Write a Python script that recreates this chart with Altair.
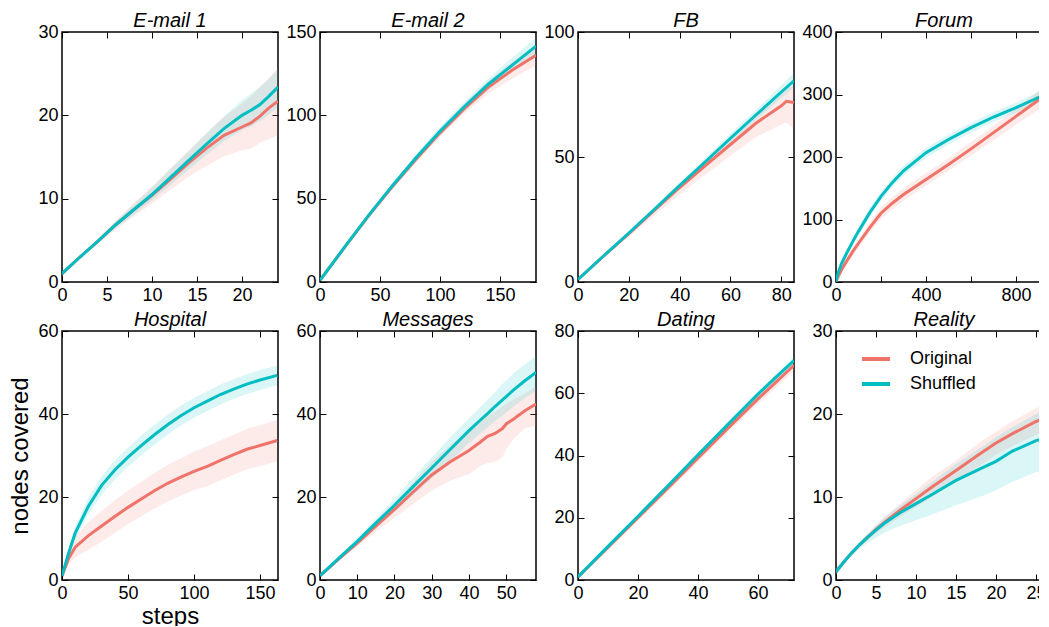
import altair as alt
import pandas as pd

FONT = "Liberation Sans"
RED = "#F0736A"
TEAL = "#00BDC2"

panel_names = ["E-mail 1", "E-mail 2", "FB", "Forum", "Hospital", "Messages", "Dating", "Reality"]
x_max = [24, 180, 85, 960, 163.6, 58, 72, 27]
y_max = [30, 150, 100, 400, 60, 60, 80, 30]
x_ticks = [[0, 5, 10, 15, 20], [0, 50, 100, 150], [0, 20, 40, 60, 80], [0, 200, 400, 600, 800],
           [0, 50, 100, 150], [0, 10, 20, 30, 40, 50], [0, 20, 40, 60], [0, 5, 10, 15, 20, 25]]
y_ticks = [[0, 10, 20, 30], [0, 50, 100, 150], [0, 50, 100], [0, 100, 200, 300, 400],
           [0, 20, 40, 60], [0, 20, 40, 60], [0, 20, 40, 60, 80], [0, 10, 20, 30]]

# ---- E-mail 1
e1_x = [0, 2, 4, 6, 8, 10, 12, 14, 16, 18, 20, 21, 22, 23, 24]
e1_s = [1, 3.0, 4.9, 6.9, 8.7, 10.5, 12.5, 14.5, 16.5, 18.4, 20.0, 20.6, 21.3, 22.3, 23.4]
e1_s_lo = [1, 2.9, 4.7, 6.5, 8.1, 9.8, 11.6, 13.4, 15.2, 16.9, 18.2, 18.7, 19.3, 20.1, 21.0]
e1_s_hi = [1, 3.1, 5.1, 7.3, 9.3, 11.3, 13.5, 15.6, 17.8, 19.9, 21.8, 22.6, 23.4, 24.4, 25.5]
e1_o = [1, 3.0, 4.9, 6.9, 8.7, 10.4, 12.3, 14.2, 16.0, 17.6, 18.6, 19.1, 19.9, 20.9, 21.7]
e1_o_lo = [1, 2.9, 4.6, 6.3, 7.9, 9.4, 11.0, 12.6, 13.9, 15.1, 15.8, 16.0, 16.7, 17.2, 17.6]
e1_o_hi = [1, 3.1, 5.2, 7.4, 9.5, 11.5, 13.6, 15.7, 17.8, 19.8, 21.4, 22.3, 23.4, 24.5, 25.7]

# ---- E-mail 2
e2_x = [0, 20, 40, 60, 80, 100, 120, 140, 160, 180]
e2_s = [1, 20.5, 39.5, 57.5, 74.5, 90.5, 105, 118.5, 130, 141.5]
e2_s_lo = [1, 20, 38.5, 56, 72.5, 88, 102, 115, 126, 137]
e2_s_hi = [1, 21, 40.5, 59, 76.5, 93, 108, 122, 134.5, 146.5]
e2_o = [1, 20.3, 39.2, 57, 73.7, 89.5, 103.8, 116.8, 127, 136]
e2_o_lo = [1, 19.8, 38.2, 55.5, 71.7, 87, 100.8, 113, 122, 130]
e2_o_hi = [1, 20.8, 40.2, 58.5, 75.7, 92, 106.8, 120.5, 132, 141]

# ---- FB
fb_x = [0, 10, 20, 30, 40, 50, 60, 70, 80, 82, 85]
fb_s = [1, 10.4, 19.6, 29.0, 38.6, 48.0, 57.5, 66.8, 76.0, 77.8, 80.5]
fb_s_lo = [1, 10.1, 19.0, 28.1, 37.4, 46.5, 55.7, 64.7, 73.6, 75.3, 77.9]
fb_s_hi = [1, 10.7, 20.2, 29.9, 39.8, 49.5, 59.3, 68.9, 78.6, 80.6, 83.9]
fb_o = [1, 10.3, 19.3, 28.6, 37.8, 46.5, 55.0, 63.5, 70.5, 72.3, 71.8]
fb_o_lo = [1, 9.7, 18.1, 26.6, 35.0, 42.9, 50.5, 58.0, 63.0, 63.8, 61.3]
fb_o_hi = [1, 10.7, 20.1, 29.8, 39.4, 48.5, 57.5, 67.0, 75.5, 77.8, 78.3]

# ---- Forum
fo_x = [0, 10, 25, 50, 75, 100, 150, 200, 250, 300, 400, 500, 600, 700, 800, 880, 960]
fo_s = [1, 15, 30, 48, 65, 81, 111, 137, 159, 178, 207, 228, 247, 264, 279, 292, 306]
fo_s_lo = [1, 12, 26, 43, 59, 75, 104, 130, 152, 170, 199, 220, 239, 256, 271, 283, 296]
fo_s_hi = [1, 18, 34, 53, 71, 87, 118, 144, 166, 186, 215, 236, 255, 272, 287, 301, 316]
fo_o = [1, 9, 20, 35, 49, 62, 87, 110, 126, 140, 164, 188, 213, 239, 265, 286, 307]
fo_o_lo = [1, 7, 16, 29, 42, 55, 79, 101, 116, 130, 154, 178, 202, 227, 252, 271, 288]
fo_o_hi = [1, 11, 24, 41, 56, 69, 95, 119, 136, 150, 174, 198, 224, 250, 277, 300, 328]

# ---- Hospital
ho_x = [0, 5, 10, 20, 30, 40, 50, 60, 70, 80, 90, 100, 110, 120, 130, 140, 150, 163]
ho_s = [1, 6.5, 11.3, 17.8, 22.8, 26.5, 29.6, 32.4, 35.0, 37.4, 39.6, 41.5, 43.1, 44.7, 46.0, 47.2, 48.2, 49.3]
ho_s_lo = [1, 5.5, 9.8, 15.8, 20.6, 24.2, 27.3, 30.0, 32.6, 35.0, 37.2, 39.1, 40.7, 42.3, 43.6, 44.8, 45.8, 46.9]
ho_s_hi = [1, 7.5, 12.8, 19.8, 25.0, 28.8, 31.9, 34.8, 37.4, 39.8, 42.0, 43.9, 45.5, 47.1, 48.4, 49.6, 50.6, 51.7]
ho_o = [1, 5.2, 7.9, 10.7, 13.0, 15.3, 17.5, 19.5, 21.5, 23.3, 24.8, 26.2, 27.4, 28.8, 30.2, 31.5, 32.4, 33.6]
ho_o_lo = [1, 3.7, 5.4, 7.3, 9.2, 11.3, 13.5, 15.3, 17.2, 18.9, 20.3, 21.7, 22.6, 24.0, 25.4, 26.6, 27.5, 28.6]
ho_o_hi = [1, 6.7, 10.4, 13.9, 16.6, 19.2, 21.5, 23.7, 25.8, 27.7, 29.3, 30.9, 32.2, 33.6, 35.0, 36.4, 37.3, 38.6]

# ---- Messages
me_x = [0, 5, 10, 15, 20, 25, 30, 35, 40, 43, 45, 47, 49, 50, 52, 55, 58]
me_s = [1, 5.2, 9.3, 13.7, 18.0, 22.5, 27.0, 31.5, 36.0, 38.5, 40.1, 41.8, 43.4, 44.2, 45.8, 48.0, 50.0]
me_s_lo = [1, 4.9, 8.6, 12.6, 16.4, 20.4, 24.5, 28.6, 33.0, 35.3, 36.8, 38.3, 39.6, 40.3, 41.8, 43.8, 45.6]
me_s_hi = [1, 5.5, 10.0, 14.8, 19.6, 24.6, 29.5, 34.4, 39.0, 41.7, 43.4, 45.3, 47.2, 48.1, 49.8, 52.0, 54.0]
me_o = [1, 5.0, 8.9, 13.0, 17.0, 21.2, 25.3, 28.5, 31.2, 33.2, 34.6, 35.3, 36.5, 37.6, 38.8, 40.8, 42.4]
me_o_lo = [1, 4.6, 8.2, 11.6, 15.0, 18.3, 21.5, 24.0, 25.5, 27.5, 28.2, 28.5, 29.5, 31.5, 34.0, 36.5, 37.3]
me_o_hi = [1, 5.4, 9.6, 14.2, 18.7, 23.5, 28.5, 32.5, 36.0, 38.0, 39.5, 40.5, 41.8, 42.5, 43.5, 45.0, 46.5]

# ---- Dating
da_x = [0, 10, 20, 30, 40, 50, 60, 66, 72]
da_s = [1, 10.8, 20.5, 30.3, 40.2, 50.0, 59.7, 65.2, 70.5]
da_s_lo = [1, 10.4, 20.0, 29.7, 39.5, 49.2, 58.8, 64.2, 69.3]
da_s_hi = [1, 11.2, 21.0, 30.9, 40.9, 50.8, 60.6, 66.2, 71.7]
da_o = [1, 10.5, 20.0, 29.6, 39.2, 48.8, 58.2, 63.6, 69.0]
da_o_lo = [1, 9.9, 19.2, 28.6, 38.0, 47.4, 56.6, 61.8, 67.2]
da_o_hi = [1, 11.0, 20.8, 30.6, 40.4, 50.2, 59.8, 65.4, 70.8]

# ---- Reality
re_x = [0, 1, 2, 3, 4, 5, 6, 8, 10, 12, 15, 18, 20, 22, 25, 27]
re_s = [1, 2.2, 3.3, 4.3, 5.2, 6.0, 6.8, 8.1, 9.2, 10.3, 12.0, 13.4, 14.3, 15.5, 16.8, 17.3]
re_s_lo = [1, 2.0, 3.0, 3.8, 4.5, 5.1, 5.7, 6.5, 7.2, 7.9, 9.0, 10.0, 10.8, 11.8, 13.0, 13.4]
re_s_hi = [1, 2.3, 3.5, 4.6, 5.6, 6.6, 7.5, 9.0, 10.4, 11.8, 14.0, 15.9, 17.2, 18.4, 20.0, 20.8]
re_o = [1, 2.2, 3.3, 4.3, 5.2, 6.1, 6.9, 8.4, 9.8, 11.2, 13.2, 15.2, 16.5, 17.6, 19.1, 19.8]
re_o_lo = [1, 2.1, 3.1, 4.0, 4.8, 5.6, 6.3, 7.6, 8.8, 10.0, 12.0, 13.8, 15.1, 16.1, 17.5, 18.1]
re_o_hi = [1, 2.3, 3.5, 4.6, 5.6, 6.6, 7.5, 9.2, 10.8, 12.4, 14.4, 16.6, 17.9, 19.1, 20.7, 21.5]

series_data = [
    (e1_x, e1_o, e1_o_lo, e1_o_hi, e1_s, e1_s_lo, e1_s_hi),
    (e2_x, e2_o, e2_o_lo, e2_o_hi, e2_s, e2_s_lo, e2_s_hi),
    (fb_x, fb_o, fb_o_lo, fb_o_hi, fb_s, fb_s_lo, fb_s_hi),
    (fo_x, fo_o, fo_o_lo, fo_o_hi, fo_s, fo_s_lo, fo_s_hi),
    (ho_x, ho_o, ho_o_lo, ho_o_hi, ho_s, ho_s_lo, ho_s_hi),
    (me_x, me_o, me_o_lo, me_o_hi, me_s, me_s_lo, me_s_hi),
    (da_x, da_o, da_o_lo, da_o_hi, da_s, da_s_lo, da_s_hi),
    (re_x, re_o, re_o_lo, re_o_hi, re_s, re_s_lo, re_s_hi),
]

series_names = ["Original", "Shuffled"]
TICK = 6


def make_panel(i):
    xs, o, olo, ohi, s, slo, shi = series_data[i]
    rows = []
    for j, xv in enumerate(xs):
        rows.append({"x": xv, "mean": o[j], "lo": olo[j], "hi": ohi[j], "series": "Original"})
    for j, xv in enumerate(xs):
        rows.append({"x": xv, "mean": s[j], "lo": slo[j], "hi": shi[j], "series": "Shuffled"})
    df = pd.DataFrame(rows)

    xscale = alt.Scale(domain=[0, x_max[i]], nice=False, zero=False)
    yscale = alt.Scale(domain=[0, y_max[i]], nice=False, zero=False)
    is_hosp = panel_names[i] == "Hospital"
    label_expr = "datum.value % 400 == 0 ? datum.label : ''" if panel_names[i] == "Forum" else "datum.label"

    common = dict(domain=False, grid=False, tickSize=TICK, offset=-TICK, tickColor="black",
                  tickWidth=1, labelFont=FONT, labelFontSize=18, labelColor="black",
                  labelFlush=False, labelOverlap=False, labelBound=False)

    x_bottom = alt.Axis(orient="bottom", values=x_ticks[i], labelPadding=4, labelExpr=label_expr,
                        title="steps" if is_hosp else None, titleFont=FONT, titleFontSize=24,
                        titleFontWeight="normal", titleColor="black", titlePadding=2, **common)
    y_left = alt.Axis(orient="left", values=y_ticks[i], labelPadding=4,
                      title="nodes covered" if is_hosp else None, titleFont=FONT, titleFontSize=24,
                      titleFontWeight="normal", titleColor="black", titlePadding=5, **common)
    x_top = alt.Axis(orient="top", values=x_ticks[i], labels=False, title=None,
                     minExtent=0, maxExtent=0, **common)
    y_right = alt.Axis(orient="right", values=y_ticks[i], labels=False, title=None,
                       minExtent=0, maxExtent=0, **common)

    color_scale = alt.Scale(domain=series_names, range=[RED, TEAL])

    if panel_names[i] == "Reality":
        legend = alt.Legend(orient="none", legendX=24, legendY=12, title=None,
                            symbolType="stroke", symbolStrokeWidth=4, symbolSize=784,
                            labelFont=FONT, labelFontSize=18, labelColor="black",
                            labelOffset=18, rowPadding=-11, padding=0)
    else:
        legend = None

    band_layers = []
    for k, (name, col) in enumerate(zip(series_names, [RED, TEAL])):
        enc_x = alt.X("x:Q", scale=xscale, axis=x_bottom if k == 0 else None)
        enc_y = alt.Y("lo:Q", scale=yscale, axis=y_left if k == 0 else None)
        band_layers.append(
            alt.Chart(df[df["series"] == name]).mark_area(color=col, opacity=0.14, clip=True).encode(
                x=enc_x, y=enc_y, y2="hi:Q"
            )
        )
    lines = alt.Chart(df).mark_line(strokeWidth=3, clip=True).encode(
        x=alt.X("x:Q", scale=xscale, axis=x_top),
        y=alt.Y("mean:Q", scale=yscale, axis=y_right),
        color=alt.Color("series:N", scale=color_scale, legend=legend),
    )
    return alt.layer(*band_layers, lines).resolve_axis(x="independent", y="independent").properties(
        width=216, height=250 if i < 4 else 249,
        title=alt.Title(panel_names[i], font=FONT, fontSize=20, fontStyle="italic",
                        fontWeight="normal", color="black", anchor="middle", offset=-8),
    )


panels = [make_panel(i) for i in range(8)]

chart = alt.concat(*panels, columns=4, spacing=alt.RowColnumber(row=49, column=42),
                   bounds="flush").resolve_scale(color="independent").resolve_legend(
    color="independent"
).properties(
    background="white",
    padding={"left": 0, "top": 2, "right": -15, "bottom": -3},
).configure_view(stroke="black", strokeWidth=1.5)

chart.save("out.html", embed_options={"renderer": "svg", "actions": False})
